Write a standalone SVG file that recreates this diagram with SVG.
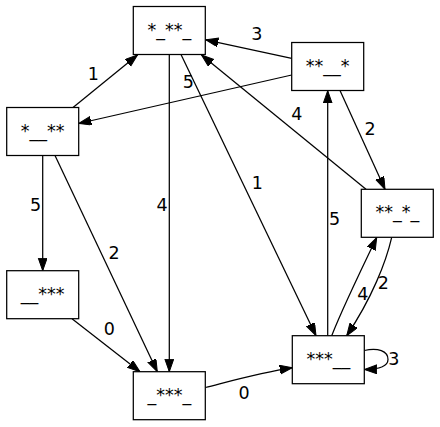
<svg xmlns="http://www.w3.org/2000/svg" width="440" height="427" viewBox="0 0 440 427">
<style>
.node rect{fill:#fff;stroke:#000;stroke-width:1.25}
.node text{font-family:"DejaVu Sans",sans-serif;font-size:17.5px;text-anchor:middle;fill:#000}
.edge path{fill:none;stroke:#000;stroke-width:1.25;marker-end:url(#arr)}
.lbl{font-family:"DejaVu Sans",sans-serif;font-size:17.5px;text-anchor:middle;fill:#000}
</style>
<defs>
<marker id="arr" markerUnits="userSpaceOnUse" markerWidth="14" markerHeight="10" refX="12.5" refY="4.4" orient="auto">
<path d="M0,0 L12.5,4.4 L0,8.8 z" fill="#000" stroke="#000" stroke-width="1"/>
</marker>
</defs>
<rect width="440" height="427" fill="#fff"/>
<g id="edges" class="edge">
<path d="M73,107.5 L137.5,55"/>
<path d="M291.7,58.3 L205.8,39.8"/>
<path d="M291.7,75 L78.7,123.5"/>
<path d="M366,189.3 L201.5,55"/>
<path d="M340,90.5 L385,189.3"/>
<path d="M327.7,335.7 L327.7,90.7"/>
<path d="M181,54.5 L316,335.7"/>
<path d="M169.3,54.5 L169.3,371.7"/>
<path d="M55,155.5 L157.3,371.7"/>
<path d="M42.7,155.5 L42.7,270.7"/>
<path d="M72,318.7 L140,371.7"/>
<path d="M205.3,387.5 C235,380 262,372.5 292.3,367.7"/>
<path d="M331.7,335.7 C341,312 360,272 376.7,237.5"/>
<path d="M391.7,237.3 C386,262 372,298 346.7,335.7"/>
<path d="M364.3,350.5 C378,347.5 388,351 388,359.5 C388,366 380,369.3 364.3,369.5"/>
</g>
<g id="labels">
<text class="lbl" x="93.3" y="79.6">1</text>
<text class="lbl" x="256.7" y="40.3">3</text>
<text class="lbl" x="188.3" y="88">5</text>
<text class="lbl" x="296.7" y="119.6">4</text>
<text class="lbl" x="370" y="134.6">2</text>
<text class="lbl" x="257.3" y="188.6">1</text>
<text class="lbl" x="334.5" y="224.6">5</text>
<text class="lbl" x="162" y="211.3">4</text>
<text class="lbl" x="35.5" y="211.3">5</text>
<text class="lbl" x="114" y="259">2</text>
<text class="lbl" x="362.7" y="300.3">4</text>
<text class="lbl" x="383.3" y="289">2</text>
<text class="lbl" x="393.8" y="364.6">3</text>
<text class="lbl" x="109.3" y="335.3">0</text>
<text class="lbl" x="244" y="399">0</text>
</g>
<g id="nA" class="node"><rect x="133.3" y="6.5" width="72" height="48"/><text x="169.3" y="35.5">*_**_</text></g>
<g id="nB" class="node"><rect x="291.7" y="42.5" width="72" height="48"/><text x="327.7" y="71.5">**__*</text></g>
<g id="nC" class="node"><rect x="6.7" y="107.5" width="72" height="48"/><text x="42.7" y="136.5">*__**</text></g>
<g id="nD" class="node"><rect x="361.3" y="189.3" width="72" height="48"/><text x="397.3" y="218.3">**_*_</text></g>
<g id="nE" class="node"><rect x="6.7" y="270.7" width="72" height="48"/><text x="42.7" y="299.7">__***</text></g>
<g id="nF" class="node"><rect x="292.3" y="335.7" width="72" height="48"/><text x="328.3" y="364.7">***__</text></g>
<g id="nG" class="node"><rect x="133.3" y="371.7" width="72" height="48"/><text x="169.3" y="400.7">_***_</text></g>
</svg>
